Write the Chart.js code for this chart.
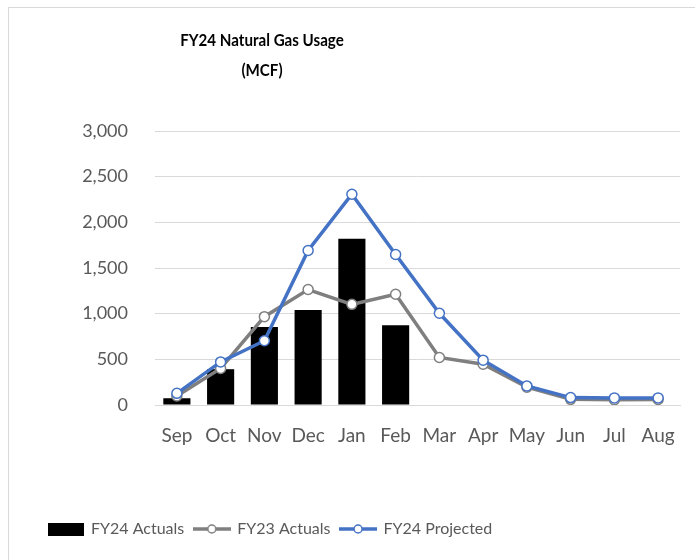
<!DOCTYPE html>
<html>
<head>
<meta charset="utf-8">
<script src="https://cdn.jsdelivr.net/npm/chart.js@4"></script>
<style>
  body { margin: 0; background: #fff; }
  #frame { position: absolute; left: 8px; top: 7px; width: 700px; height: 600px; border: 1px solid #d9d9d9; }
  #chart { position: absolute; left: 0; top: 0; }
</style>
</head>
<body>
<div id="frame"></div>
<canvas id="chart" width="695" height="560"></canvas>
<script>
const months = ['Sep', 'Oct', 'Nov', 'Dec', 'Jan', 'Feb', 'Mar', 'Apr', 'May', 'Jun', 'Jul', 'Aug'];
const fy24Actuals = [74, 392, 854, 1041, 1821, 872, null, null, null, null, null, null];
const fy23Actuals = [99, 400, 967, 1264, 1102, 1212, 520, 447, 195, 62, 58, 60];
const fy24Projected = [128, 472, 703, 1692, 2308, 1648, 1004, 491, 209, 81, 78, 78];
const titleLines = ['FY24 Natural Gas Usage', '(MCF)'];

const font = "Lato, 'DejaVu Sans Condensed', sans-serif";
const textColor = '#595959';
const gridColor = '#d9d9d9';
const grey = '#7f7f7f';
const blue = '#4472c4';

// little legend icons drawn like Excel's (bar block, line with marker)
function barIcon() {
  const c = document.createElement('canvas');
  c.width = 36; c.height = 13;
  const g = c.getContext('2d');
  g.fillStyle = '#000';
  g.fillRect(0, 0, 36, 13);
  return c;
}
function lineIcon(color) {
  const c = document.createElement('canvas');
  c.width = 38; c.height = 12;
  const g = c.getContext('2d');
  g.strokeStyle = color;
  g.lineWidth = 3.5;
  g.beginPath(); g.moveTo(0, 6); g.lineTo(38, 6); g.stroke();
  g.fillStyle = '#fff';
  g.lineWidth = 1.5;
  g.beginPath(); g.arc(19, 6, 4, 0, Math.PI * 2); g.fill(); g.stroke();
  return c;
}
const icons = [barIcon(), lineIcon(grey), lineIcon(blue)];

// title centred over the chart frame, not over the plot; squeezed a bit to look like Calibri
const titlePlugin = {
  id: 'frameTitle',
  afterDraw(chart) {
    const ctx = chart.ctx;
    ctx.save();
    ctx.fillStyle = '#000';
    ctx.font = "bold 17px " + font;
    ctx.textAlign = 'center';
    ctx.textBaseline = 'middle';
    ctx.translate(262, 0);
    ctx.scale(0.89, 1);
    ctx.fillText(titleLines[0], 0, 41);
    ctx.fillText(titleLines[1], 0, 71);
    ctx.restore();
  }
};

new Chart(document.getElementById('chart').getContext('2d'), {
  type: 'bar',
  data: {
    labels: months,
    datasets: [
      {
        label: 'FY24 Actuals',
        data: fy24Actuals,
        backgroundColor: '#000',
        barPercentage: 0.62,
        categoryPercentage: 1,
        order: 3
      },
      {
        type: 'line',
        label: 'FY23 Actuals',
        data: fy23Actuals,
        borderColor: grey,
        borderWidth: 3.5,
        pointRadius: 5,
        pointBorderWidth: 1.5,
        pointBackgroundColor: '#fff',
        pointBorderColor: grey,
        tension: 0,
        order: 2
      },
      {
        type: 'line',
        label: 'FY24 Projected',
        data: fy24Projected,
        borderColor: blue,
        borderWidth: 3.5,
        pointRadius: 5,
        pointBorderWidth: 1.5,
        pointBackgroundColor: '#fff',
        pointBorderColor: blue,
        tension: 0,
        order: 1
      }
    ]
  },
  options: {
    responsive: false,
    animation: false,
    layout: { padding: { left: 38, right: 15, top: 131, bottom: 13 } },
    scales: {
      x: {
        grid: { display: false },
        border: { color: gridColor },
        ticks: { color: textColor, font: { family: font, size: 19 }, padding: 11, maxRotation: 0, autoSkip: false },
        afterFit(scale) { scale.height = 106; }
      },
      y: {
        min: 0,
        max: 3000,
        grid: { color: gridColor, drawTicks: false },
        border: { display: false },
        ticks: { stepSize: 500, color: textColor, font: { family: font, size: 18 }, padding: 27 },
        afterFit(scale) { scale.width = 117; }
      }
    },
    plugins: {
      tooltip: { enabled: false },
      legend: {
        position: 'bottom',
        align: 'start',
        labels: {
          color: textColor,
          font: { family: font, size: 16 },
          padding: 10,
          usePointStyle: true,
          pointStyleWidth: 35,
          sort: (a, b) => a.datasetIndex - b.datasetIndex,
          generateLabels(chart) {
            const items = Chart.defaults.plugins.legend.labels.generateLabels(chart);
            items.forEach(it => { it.pointStyle = icons[it.datasetIndex]; });
            return items;
          }
        }
      }
    }
  },
  plugins: [titlePlugin]
});
</script>
</body>
</html>
